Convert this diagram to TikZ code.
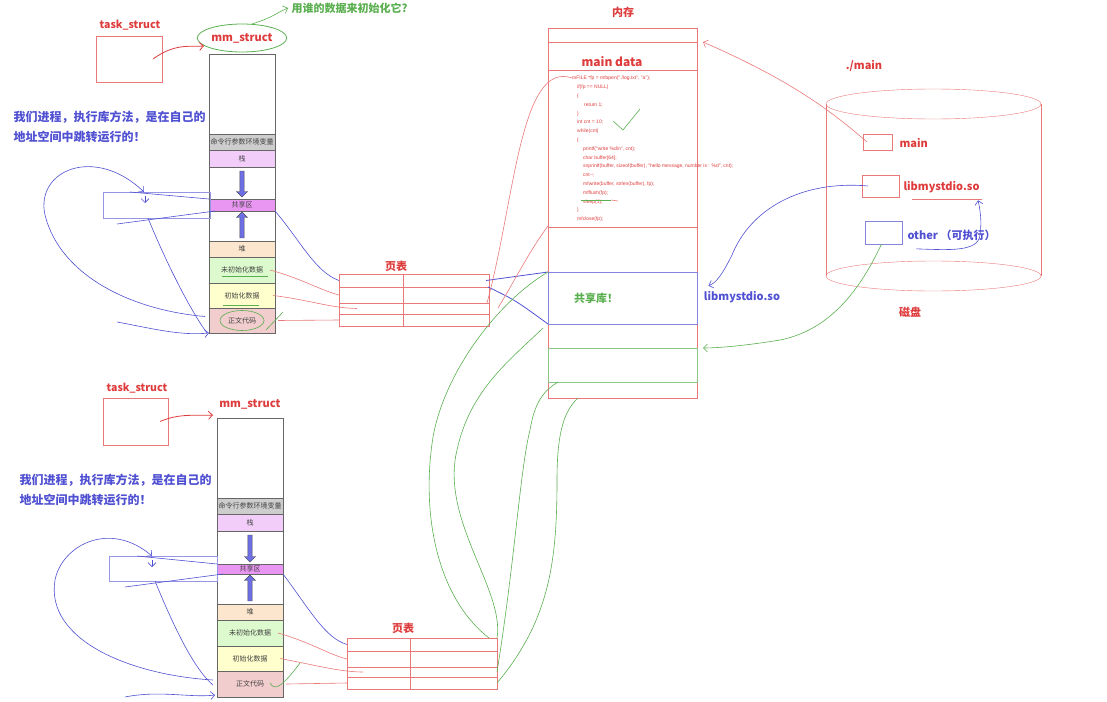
\documentclass[tikz,border=0pt]{standalone}
\usepackage{fontspec}
\setmainfont{Noto Sans CJK SC}
\newfontfamily\codefont{Liberation Sans}
\usepackage{tikz}
\usetikzlibrary{arrows.meta,positioning,shapes.geometric,shapes.arrows}

\definecolor{penred}{RGB}{222,60,60}
\definecolor{linered}{RGB}{235,120,120}
\definecolor{penblue}{RGB}{80,80,210}
\definecolor{pengreen}{RGB}{90,175,80}
\definecolor{seggray}{RGB}{205,205,205}
\definecolor{segpink}{RGB}{242,205,250}
\definecolor{segmag}{RGB}{232,150,242}
\definecolor{segheap}{RGB}{252,230,205}
\definecolor{segbss}{RGB}{220,250,205}
\definecolor{segdata}{RGB}{255,255,205}
\definecolor{segtext}{RGB}{242,205,205}
\definecolor{fatblue}{RGB}{110,110,230}

\begin{document}
\begin{tikzpicture}[x=1pt,y=-1pt,>={Straight Barb[length=4pt,width=8pt]},
    seg/.style={draw=black!60,thick,outer sep=0pt,inner sep=0pt,minimum width=66pt,
                text=black!75,font=\fontsize{7}{7}\selectfont},
    fatarr/.style={single arrow,draw=black!70,fill=fatblue,inner sep=1.6pt,
                   minimum width=11pt,single arrow head extend=3pt},
    ptrow/.style={draw=linered,thick,outer sep=0pt,inner sep=0pt,minimum width=150pt},
    redbox/.style={draw=linered,outer sep=0pt,inner sep=0pt},
    redlab/.style={text=penred,font=\bfseries\fontsize{11}{11}\selectfont},
    bluelab/.style={text=penblue,font=\bfseries\fontsize{11}{11}\selectfont},
    greenlab/.style={text=pengreen,font=\bfseries\fontsize{11}{11}\selectfont},
    note/.style={text=penblue,align=left,font=\bfseries\fontsize{12}{20}\selectfont},
    codetxt/.style={text=penred,align=left,inner sep=0pt,font=\codefont\fontsize{5}{8.8}\selectfont}]
\useasboundingbox (0,0) rectangle (1107,701);

% upper process
\node[redbox,minimum width=66pt,minimum height=46pt,anchor=north west] (tsA) at (96,36) {};
\node[redlab,font=\bfseries\fontsize{10.5}{11}\selectfont] (tslabA) at (130,25) {task\_struct};
\node[redlab,ellipse,draw=pengreen,thick,inner sep=1pt,minimum width=70pt,minimum height=28pt] (mmlabA) at (242,38) {mm\_struct};
\node[greenlab,anchor=west] (ask) at (288,8) {用谁的数据来初始化它?};
\node[note,anchor=north west] (noteA) at (10,108) {我们进程，执行库方法，是在自己的\\地址空间中跳转运行的！};

\node[seg,minimum height=80pt,anchor=north west] (topA) at (209,54) {};
\node[seg,fill=seggray,minimum height=16pt,below=0pt of topA] (argA) {命令行参数环境变量};
\node[seg,fill=segpink,minimum height=17pt,below=0pt of argA] (stackA) {栈};
\node[seg,minimum height=32pt,below=0pt of stackA] (gapA) {};
\node[seg,fill=segmag,minimum height=12pt,below=0pt of gapA] (shareA) {共享区};
\node[seg,minimum height=30pt,below=0pt of shareA] (gapAA) {};
\node[seg,fill=segheap,minimum height=16pt,below=0pt of gapAA] (heapA) {堆};
\node[seg,fill=segbss,minimum height=26pt,below=0pt of heapA] (bssA) {未初始化数据};
\node[seg,fill=segdata,minimum height=25pt,below=0pt of bssA] (dataA) {初始化数据};
\node[seg,fill=segtext,minimum height=25pt,below=0pt of dataA] (textA) {正文代码};
\node[fatarr,minimum height=26pt,rotate=-90] (downA) at (gapA) {};
\node[fatarr,minimum height=26pt,rotate=90] (upA) at (gapAA) {};

\node[draw=penblue!60,minimum width=107pt,minimum height=26pt,outer sep=0pt,anchor=north west] (jmpA) at (103,192) {};

\node[ptrow,minimum height=13pt,anchor=north west] (ptA1) at (339,274) {};
\node[ptrow,minimum height=16pt,below=0pt of ptA1] (ptA2) {};
\node[ptrow,minimum height=11pt,below=0pt of ptA2] (ptA3) {};
\node[ptrow,minimum height=12pt,below=0pt of ptA3] (ptA4) {};
\node[redlab] (ptlabA) at (396,266) {页表};
\draw[linered] ([xshift=64pt]ptA1.north west) -- ([xshift=64pt]ptA4.south west);

% lower process
\node[redbox,minimum width=65pt,minimum height=47pt,anchor=north west] (tsB) at (103,398) {};
\node[redlab,font=\bfseries\fontsize{10.5}{11}\selectfont] (tslabB) at (137,388) {task\_struct};
\node[redlab] (mmlabB) at (250,404) {mm\_struct};
\node[note,anchor=north west] (noteB) at (16,470) {我们进程，执行库方法，是在自己的\\地址空间中跳转运行的！};

\node[seg,minimum height=80pt,anchor=north west] (topB) at (217,418) {};
\node[seg,fill=seggray,minimum height=16pt,below=0pt of topB] (argB) {命令行参数环境变量};
\node[seg,fill=segpink,minimum height=17pt,below=0pt of argB] (stackB) {栈};
\node[seg,minimum height=33pt,below=0pt of stackB] (gapB) {};
\node[seg,fill=segmag,minimum height=10pt,below=0pt of gapB] (shareB) {共享区};
\node[seg,minimum height=30pt,below=0pt of shareB] (gapBB) {};
\node[seg,fill=segheap,minimum height=16pt,below=0pt of gapBB] (heapB) {堆};
\node[seg,fill=segbss,minimum height=26pt,below=0pt of heapB] (bssB) {未初始化数据};
\node[seg,fill=segdata,minimum height=25pt,below=0pt of bssB] (dataB) {初始化数据};
\node[seg,fill=segtext,minimum height=26pt,below=0pt of dataB] (textB) {正文代码};
\node[fatarr,minimum height=27pt,rotate=-90] (downB) at (gapB) {};
\node[fatarr,minimum height=26pt,rotate=90] (upB) at (gapBB) {};

\node[draw=penblue!60,minimum width=108pt,minimum height=25pt,outer sep=0pt,anchor=north west] (jmpB) at (109,556) {};

\node[ptrow,minimum height=13pt,anchor=north west] (ptB1) at (347,638) {};
\node[ptrow,minimum height=16pt,below=0pt of ptB1] (ptB2) {};
\node[ptrow,minimum height=10pt,below=0pt of ptB2] (ptB3) {};
\node[ptrow,minimum height=12pt,below=0pt of ptB3] (ptB4) {};
\node[redlab] (ptlabB) at (403,628) {页表};
\draw[linered] ([xshift=63pt]ptB1.north west) -- ([xshift=63pt]ptB4.south west);

% memory
\node[redbox,minimum width=149pt,minimum height=370pt,anchor=north west] (mem) at (548,28) {};
\node[redbox,minimum width=149pt,minimum height=28pt,anchor=north west] (maindata) at (548,42) {};
\node[redbox,minimum width=149pt,minimum height=157pt,anchor=north west] (code) at (548,70) {};
\node[draw=penblue!70,outer sep=0pt,minimum width=149pt,minimum height=52pt,anchor=north west] (shlib) at (548,272) {};
\node[draw=pengreen!70,outer sep=0pt,minimum width=149pt,minimum height=34pt,anchor=north west] (gbox) at (548,348) {};
\node[redlab] (memlab) at (623,12) {内存};
\node[redlab,font=\bfseries\fontsize{12}{12}\selectfont] (mdlab) at (612,62) {main data};
\node[greenlab] (shlab) at (596,298) {共享库！};
\node[codetxt,anchor=north west] (codetext) at (572,76) {%
mFILE *fp = mfopen("./log.txt", "a");\\
\hspace*{5pt}if(fp == NULL)\\
\hspace*{5pt}\{\\
\hspace*{12pt}return 1;\\
\hspace*{5pt}\}\\
\hspace*{5pt}int cnt = 10;\\
\hspace*{5pt}while(cnt)\\
\hspace*{5pt}\{\\
\hspace*{11pt}printf("write \%d\textbackslash n", cnt);\\
\hspace*{11pt}char buffer[64];\\
\hspace*{11pt}snprintf(buffer, sizeof(buffer), "hello message, number is : \%d", cnt);\\
\hspace*{11pt}cnt{-}{-};\\
\hspace*{11pt}mfwrite(buffer, strlen(buffer), fp);\\
\hspace*{11pt}mfflush(fp);\\
\hspace*{11pt}sleep(1);\\
\hspace*{5pt}\}\\
\hspace*{5pt}mfclose(fp);};

% disk
\draw[linered] (826,104) -- (826,276) (1041,104) -- (1041,276);
\draw[linered] (933.5,104) ellipse [x radius=107.5pt,y radius=15pt];
\draw[linered] (933.5,276) ellipse [x radius=107.5pt,y radius=15pt];
\node[redlab] (dotmain) at (864,66) {./main};
\node[redlab] (disklab) at (910,312) {磁盘};
\node[redbox,minimum width=29pt,minimum height=16pt,anchor=north west] (mainf) at (863,134) {};
\node[redbox,minimum width=37pt,minimum height=22pt,anchor=north west] (libf) at (862,175) {};
\node[draw=penblue!70,outer sep=0pt,minimum width=37pt,minimum height=23pt,anchor=north west] (otherf) at (865,221) {};
\node[redlab,anchor=west] (mainlab) at (896,143) {main};
\node[redlab,anchor=west] (liblab) at (900,187) {libmystdio.so};
\node[bluelab,anchor=west] (otherlab) at (904,235) {other （可执行）};
\node[bluelab] (libblue) at (742,297) {libmystdio.so};

% connectors
\begin{scope}[thick]
    \draw[penred,->] ([xshift=-9pt]tsA.east) .. controls (175,43) and (190,47) .. ([shift={(-5,-8)}]topA.north west);
    \draw[penred,->] ([xshift=-8pt]tsB.east) .. controls (180,413) and (195,416) .. ([shift={(-4,-3)}]topB.north west);
    \draw[pengreen,semithick,->] (mmlabA.55) .. controls (272,18) and (278,12) .. (ask.west);
    % jumps inside the address space
    \draw[penblue,semithick,->] ([shift={(-4,-4)}]textA.west) .. controls (130,310) and (60,275) .. (45,215)
        .. controls (35,170) and (95,145) .. ([xshift=41pt]jmpA.north west);
    \draw[penblue,semithick] ([xshift=27pt]jmpA.north west) -- (shareA.north west);
    \draw[penblue,semithick] ([shift={(14,6)}]jmpA.south west) -- ([xshift=6pt]shareA.south west);
    \draw[penblue,semithick,->] ([shift={(42,4)}]jmpA.north west) -- ([shift={(42,11)}]jmpA.north west);
    \draw[penblue,semithick] ([xshift=45pt]jmpA.south west) .. controls (165,260) and (190,310) .. ([xshift=-2pt]textA.south west);
    \draw[penblue,semithick,->] ([shift={(14,-11)}]jmpA.south west |- textA.south) .. controls (150,328) and (180,336) .. (textA.south west);
    \draw[penblue,semithick,->] ([shift={(-4,-4)}]textB.west) .. controls (130,675) and (45,640) .. (55,580)
        .. controls (62,545) and (110,520) .. ([xshift=43pt]jmpB.north west);
    \draw[penblue,semithick] ([xshift=28pt]jmpB.north west) -- (shareB.north west);
    \draw[penblue,semithick] ([shift={(16,6)}]jmpB.south west) -- ([xshift=6pt]shareB.south west);
    \draw[penblue,semithick,->] ([shift={(43,4)}]jmpB.north west) -- ([shift={(43,11)}]jmpB.north west);
    \draw[penblue,semithick] ([xshift=46pt]jmpB.south west) .. controls (175,630) and (195,670) .. ([shift={(-4,-12)}]textB.south west);
    \draw[penblue,semithick,->] ([xshift=16pt]jmpB.south west |- textB.south) .. controls (160,690) and (190,698) .. ([shift={(-2,-2)}]textB.south west);
    % address space to page table
    \draw[penblue,semithick] (shareA.south east) .. controls (300,240) and (315,272) .. (ptA1.west);
    \draw[penblue,semithick] (shareB.south east) .. controls (310,610) and (325,638) .. (ptB1.west);
    \draw[linered,semithick] ([xshift=-5pt]bssA.east) .. controls (300,278) and (320,290) .. (ptA2.west);
    \draw[linered,semithick] ([xshift=-2pt]dataA.east) .. controls (310,300) and (330,308) .. ([xshift=18pt]ptA3.west);
    \draw[linered,semithick] ([xshift=3pt]textA.east) -- (ptA4.west);
    \draw[linered,semithick] ([xshift=-5pt]bssB.east) .. controls (310,642) and (330,655) .. (ptB2.west);
    \draw[linered,semithick] ([xshift=-3pt]dataB.east) .. controls (315,665) and (340,672) .. ([xshift=16pt]ptB3.west);
    \draw[linered,semithick] ([xshift=3pt]textB.east) -- (ptB4.west);
    % page table to memory
    \draw[penblue] ([xshift=-3pt]ptA1.east) -- (shlib.north west);
    \draw[penblue] ([xshift=-1pt]ptA2.north east) .. controls (515,300) .. (shlib.south west);
    \draw[linered,semithick] ([xshift=-2pt]ptA3.north east) .. controls (515,200) and (520,60) .. ([shift={(24,8)}]code.north west);
    \draw[linered,semithick] ([shift={(9,-6)}]ptA4.north east) .. controls (515,280) and (530,250) .. ([yshift=1pt]code.south west);
    \draw[pengreen,semithick] ([xshift=-8pt]ptB1.north east) .. controls (440,600) and (420,520) .. (433,437)
        .. controls (445,370) and (500,300) .. (shlib.north west);
    \draw[pengreen,semithick] (ptB1.north east) .. controls (505,590) and (440,520) .. (457,450)
        .. controls (470,390) and (510,360) .. ([shift={(-5,4)}]shlib.south west);
    \draw[pengreen,semithick] (ptB3.east) .. controls (515,560) and (520,470) .. (530,430)
        .. controls (535,400) and (545,390) .. ([xshift=10pt]gbox.south west);
    \draw[pengreen,semithick] (ptB4.east) .. controls (550,620) and (557,560) .. (557,480)
        .. controls (557,430) and (565,410) .. ([xshift=30pt]mem.south west);
    % disk to memory
    \draw[linered,semithick,->] ([xshift=4pt]mainf.west) .. controls (830,110) and (790,80) .. ([xshift=6pt]maindata.north east);
    \draw[penblue,semithick,->] ([xshift=6pt]libf.west) .. controls (800,180) and (750,210) .. (732,255)
        .. controls (722,275) and (716,283) .. ([shift={(8,-2)}]libblue.north west);
    \draw[pengreen,semithick,->] ([xshift=-2pt]otherf.south) .. controls (860,290) and (830,330) .. (780,340)
        .. controls (750,345) and (720,348) .. ([xshift=6pt]gbox.north east);
    \draw[penblue,semithick,->] ([shift={(12,5)}]otherlab.south west) .. controls (950,250) and (978,252) .. (980,235)
        .. controls (982,220) and (980,210) .. ([shift={(-5,4)}]liblab.south east);
    \draw[linered,semithick] ([shift={(12,3)}]liblab.south west) -- ([shift={(-1,3)}]liblab.south east);
    % marks
    \draw[pengreen,semithick] (613,121) -- (623,130) -- (640,109);
    \draw[pengreen,semithick] (581,200) -- (611,200);
    \draw[linered,semithick] (611,200) -- (618,201);
    \draw[pengreen,semithick] (textA) ellipse [x radius=22pt,y radius=10pt];
    \draw[pengreen,semithick] (266,330) -- (283,312);
    \draw[pengreen,semithick] ([shift={(13,-7)}]bssA.south west) -- ([shift={(-7,-7)}]bssA.south east);
    \draw[pengreen,semithick] ([shift={(14,-3)}]dataA.south west) -- ([shift={(-16,-3)}]dataA.south east);
    \draw[pengreen,semithick] (270,683) .. controls (274,690) and (280,690) .. (300,663);
\end{scope}
\end{tikzpicture}
\end{document}
